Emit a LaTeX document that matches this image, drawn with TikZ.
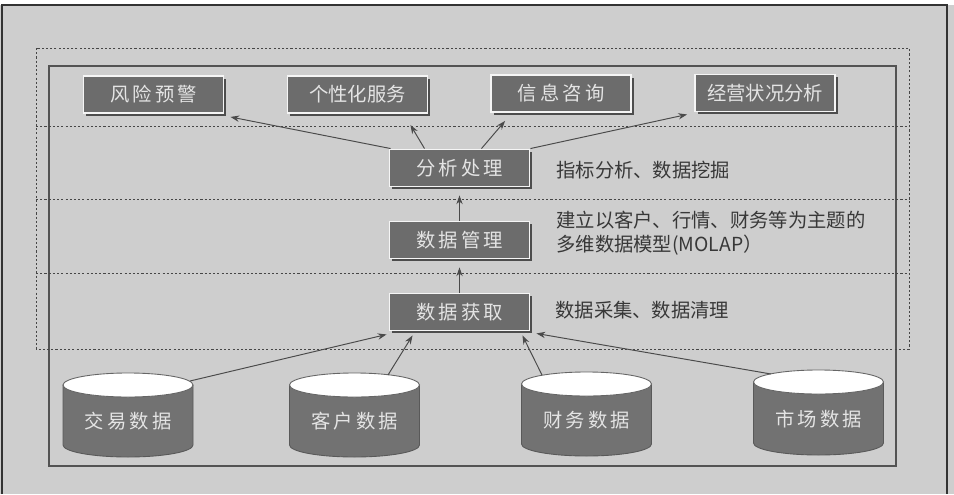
\documentclass[tikz,border=0pt]{standalone}
\usepackage{fontspec}
\setmainfont{Liberation Sans}
\newfontfamily\cjk{Noto Sans CJK SC}
\usetikzlibrary{shadows,calc,arrows.meta}
\definecolor{bgc}{HTML}{CECECE}
\definecolor{boxc}{HTML}{6C6C6C}
\definecolor{boxtxt}{HTML}{E4E4E4}
\definecolor{cylc}{HTML}{727272}
\definecolor{linec}{HTML}{4A4A4A}
\definecolor{anntxt}{HTML}{383838}
\newcommand\dbcyl[3]{%
  \filldraw[cylbody] (#1-65,-#2) -- (#1-65,-#3)
     arc[start angle=180,end angle=360,x radius=65,y radius=12]
     -- (#1+65,-#2) -- cycle;
  \filldraw[cyltop] (#1,-#2) ellipse[x radius=65,y radius=12];
}
\tikzset{
  pbox/.style={rectangle, fill=boxc, draw=white!92!gray, line width=1.1pt,
    minimum width=2.8cm, minimum height=0.74cm, inner sep=0pt,
    text=boxtxt, font=\cjk\fontsize{11}{13}\selectfont,
    drop shadow={shadow xshift=1.6pt, shadow yshift=-1.6pt, fill=black!75, opacity=0.9}},
  cylbody/.style={fill=cylc, draw=gray!70!black, line width=0.5pt},
  cyltop/.style={fill=white, draw=gray!80!black, line width=0.5pt},
  cyltext/.style={text=boxtxt, font=\cjk\fontsize{11}{13}\selectfont, inner sep=0pt},
  ann/.style={text=anntxt, font=\cjk\fontsize{11}{13.5}\selectfont, inner sep=0pt, align=left, anchor=west},
  arr/.style={draw=linec, line width=0.55pt, -{Stealth[length=5pt,width=3.6pt]}},
  dotl/.style={draw=gray!55!black, line width=0.5pt, dash pattern=on 1.2pt off 1.2pt},
}
\begin{document}
\begin{tikzpicture}[x=0.02cm,y=0.02cm]
\useasboundingbox (0,0) rectangle (954,-494);
\fill[white] (0,0) rectangle (954,-494);
\fill[bgc] (0,-5) rectangle (954,-494);
\draw[gray!40!black, line width=0.8pt] (2,-494) -- (2,-5) -- (947,-5) -- (947,-494);
% frames
\draw[gray!65!black, line width=0.7pt] (49,-66) rectangle (896,-466);
\draw[dotl] (36,-48) rectangle (909,-349);
\draw[dotl] (36,-126) -- (909,-126);
\draw[dotl] (36,-199) -- (909,-199);
\draw[dotl] (36,-273) -- (909,-273);
% top row
\node[pbox] (r1) at (153.5,-94.5) {风\,险\,预\,警};
\node[pbox] (r2) at (357.5,-94.5) {个性化服务};
\node[pbox] (r3) at (561,-93.5) {信\,息\,咨\,询};
\node[pbox] (r4) at (765,-93) {经营状况分析};
% middle column
\node[pbox] (a) at (459.5,-168) {分\,析\,处\,理};
\node[pbox] (m) at (459.5,-240) {数\,据\,管\,理};
\node[pbox] (g) at (459.5,-312) {数\,据\,获\,取};
% annotations
\node[ann] (t1) at (556,-170) {指标分析、数据挖掘};
\node[ann] (t2) at (556,-233) {建立以客户、行情、财务等为主题的\\多维数据模型(MOLAP）};
\node[ann] (t3) at (555,-310) {数据采集、数据清理};
% cylinders
\dbcyl{128}{385}{445}
\dbcyl{354.5}{385}{445}
\dbcyl{586.5}{384}{444}
\dbcyl{818.5}{382}{443}
\node[cyltext] (c1) at (128,-421) {交\,易\,数\,据};
\node[cyltext] (c2) at (354.5,-421) {客\,户\,数\,据};
\node[cyltext] (c3) at (586.5,-420) {财\,务\,数\,据};
\node[cyltext] (c4) at (818.5,-419) {市\,场\,数\,据};
\coordinate (c1a) at (190,-381);
\coordinate (c2a) at (388,-375);
\coordinate (c3a) at (542,-375);
\coordinate (c4a) at (771,-374);
% connectors
\draw[arr] ($(a.north west)+(2,0)$) -- ($(r1.south east)+(6,-3)$);
\draw[arr] ($(a.north)+(-35,0)$) -- ($(r2.south east)+(-18,-11)$);
\draw[arr] ($(a.north)+(22,0)$) -- ($(r3.south west)+(15,-8)$);
\draw[arr] (a.north east) -- ($(r4.south west)+(-7,-2)$);
\draw[arr] (m.north) -- ($(a.south)+(0,-8)$);
\draw[arr] (g.north) -- ($(m.south)+(0,-8)$);
\draw[arr] (c1a) -- ($(g.south west)+(-2,-3)$);
\draw[arr] (c2a) -- ($(g.south west)+(24,-4)$);
\draw[arr] (c3a) -- ($(g.south east)+(-8,-4)$);
\draw[arr] (c4a) -- ($(g.south east)+(6,-2)$);
\end{tikzpicture}
\end{document}
